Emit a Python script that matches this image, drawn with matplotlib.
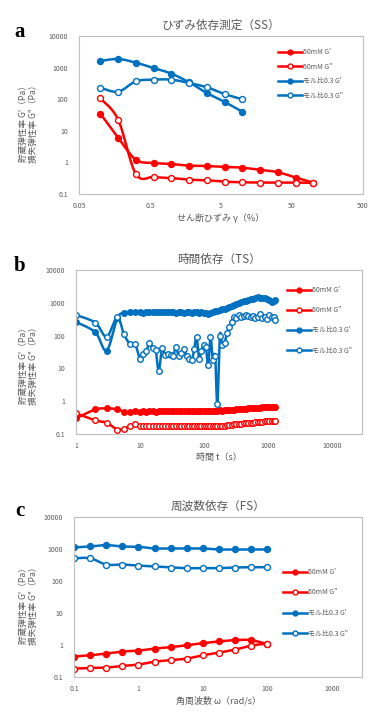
import numpy as np
import matplotlib
matplotlib.use('Agg')
import matplotlib.pyplot as plt
from matplotlib.lines import Line2D

plt.rcParams['font.family'] = ['Noto Sans CJK JP', 'DejaVu Sans']

#
# data
#
# (a) strain sweep
ss_strain = [0.1, 0.178, 0.316, 0.562, 1.0, 1.78, 3.16, 5.62, 10.0, 17.8, 31.6, 56.2, 100.0]
ss_50_gp = [34.8, 6.1, 1.22, 0.96, 0.89, 0.79, 0.77, 0.72, 0.68, 0.58, 0.49, 0.33, 0.23]
ss_50_gpp = [106, 22.5, 0.43, 0.345, 0.32, 0.285, 0.27, 0.245, 0.235, 0.23, 0.23, 0.23, 0.225]
ss_mr_strain = [0.1, 0.178, 0.316, 0.562, 1.0, 1.78, 3.16, 5.62, 10.0]
ss_mr_gp = [1618, 1870, 1430, 970, 643, 342, 157, 82, 40]
ss_mr_gpp = [232, 173, 367, 415, 415, 326, 238, 146, 99]

# (b) time sweep
ts_time = [1, 2, 3, 4.4, 5.6, 6.9, 8.4, 10, 11.2, 12.5, 14, 15.8, 17.5, 19.5, 22, 24.5,
           27, 30, 33, 36, 40, 44, 48, 53, 58, 64, 70, 76, 83, 90, 98, 106, 115, 125,
           136, 148, 160, 175, 190, 207, 225, 245, 267, 290, 316, 345, 375, 410, 445,
           485, 530, 575, 625, 680, 740, 805, 875, 950, 1035, 1125, 1220, 1290]
ts_50_gp = [0.30, 0.56, 0.60, 0.57, 0.47, 0.47, 0.50, 0.48, 0.49, 0.48, 0.50, 0.49, 0.48,
            0.50, 0.49, 0.50, 0.49, 0.50, 0.50, 0.49, 0.50, 0.51, 0.50, 0.50, 0.51, 0.50,
            0.51, 0.51, 0.50, 0.51, 0.51, 0.51, 0.52, 0.51, 0.52, 0.52, 0.52, 0.53, 0.52,
            0.53, 0.54, 0.54, 0.55, 0.55, 0.56, 0.57, 0.57, 0.58, 0.59, 0.60, 0.60, 0.61,
            0.62, 0.63, 0.64, 0.65, 0.66, 0.66, 0.67, 0.68, 0.68, 0.68]
ts_50_gpp = [0.43, 0.26, 0.22, 0.137, 0.146, 0.17, 0.20, 0.17, 0.18, 0.18, 0.18, 0.18,
             0.18, 0.18, 0.18, 0.18, 0.18, 0.18, 0.18, 0.18, 0.18, 0.18, 0.18, 0.18,
             0.18, 0.18, 0.18, 0.18, 0.18, 0.18, 0.18, 0.18, 0.18, 0.18, 0.18, 0.18,
             0.18, 0.18, 0.18, 0.18, 0.185, 0.19, 0.19, 0.195, 0.20, 0.20, 0.205, 0.21,
             0.21, 0.215, 0.22, 0.22, 0.225, 0.23, 0.235, 0.24, 0.245, 0.25, 0.25,
             0.255, 0.255, 0.25]
ts_mr_gp = [260, 126, 35, 336, 500, 520, 540, 530, 500, 520, 510, 530, 520, 510, 530, 520,
            540, 510, 520, 500, 510, 520, 500, 530, 510, 500, 510, 520, 500, 510, 490, 480,
            470, 500, 540, 560, 580, 600, 630, 660, 700, 730, 780, 840, 900, 960, 1040,
            1100, 1150, 1220, 1290, 1350, 1420, 1470, 1430, 1380, 1400, 1320, 1200, 1050,
            1150, 1200]
ts_mr_gpp = [425, 248, 93, 361, 109, 57, 54, 19, 28, 35, 58, 41, 36, 8.5, 41, 25, 28, 25,
             24, 44, 24, 30, 39, 24, 20, 18, 40, 92, 20, 35, 50, 45, 12.5, 89, 18, 24, 0.8,
             100, 52, 60, 117, 187, 265, 377, 350, 420, 380, 400, 430, 390, 360, 410, 350,
             380, 460, 350, 360, 330, 420, 370, 360, 290]

# (c) frequency sweep
fs_freq = [0.1, 0.178, 0.316, 0.562, 1.0, 1.78, 3.16, 5.62, 10.0, 17.8, 31.6, 56.2, 100.0]
fs_50_gp = [0.435, 0.478, 0.54, 0.624, 0.67, 0.775, 0.853, 0.986, 1.14, 1.29, 1.42, 1.42, 1.06]
fs_50_gpp = [0.183, 0.192, 0.197, 0.221, 0.244, 0.303, 0.334, 0.376, 0.478, 0.58, 0.72, 0.96, 1.11]
fs_mr_gp = [1117, 1200, 1322, 1200, 1172, 1040, 1040, 1040, 1040, 967, 967, 967, 967]
fs_mr_gpp = [505, 516, 327, 327, 304, 284, 264, 252, 252, 252, 264, 270, 270]

labels = ["50mM G'", '50mM G"', "モル比0.3 G'", 'モル比0.3 G"']
RED = '#FF0000'
BLUE = '#0070C0'
GRAY = '#595959'
y_ticks = [0.1, 1, 10, 100, 1000, 10000]


def smooth(x, y, n=12):
    # Catmull-Rom curve through the points in log-log space (like Excel smoothing)
    lx = np.log10(np.asarray(x, float))
    ly = np.log10(np.asarray(y, float))
    px = np.concatenate([[lx[0]], lx, [lx[-1]]])
    py = np.concatenate([[ly[0]], ly, [ly[-1]]])
    t = np.linspace(0, 1, n)[:, None]
    xs, ys = [], []
    for i in range(1, len(px) - 2):
        p0 = np.array([px[i - 1], py[i - 1]])
        p1 = np.array([px[i], py[i]])
        p2 = np.array([px[i + 1], py[i + 1]])
        p3 = np.array([px[i + 2], py[i + 2]])
        c1 = p1 + (p2 - p0) / 6
        c2 = p2 - (p3 - p1) / 6
        b = ((1 - t) ** 3) * p1 + 3 * ((1 - t) ** 2) * t * c1 + 3 * (1 - t) * t ** 2 * c2 + t ** 3 * p2
        xs.append(b[:, 0])
        ys.append(b[:, 1])
    return 10 ** np.concatenate(xs), 10 ** np.concatenate(ys)


def series(ax, x, y, color, filled, ms=4.3):
    sx, sy = smooth(x, y)
    ax.plot(sx, sy, color=color, lw=1.8, solid_capstyle='round')
    ax.plot(x, y, ls='none', marker='o', ms=ms, mec=color, mew=1.0,
            mfc=color if filled else 'white')


def setup(ax, xlim, xticks, xticklabels, title, xlabel, ylab_y, leg_xy, leg_space):
    ax.set_xscale('log')
    ax.set_yscale('log')
    ax.set_xlim(*xlim)
    ax.set_ylim(0.1, 10000)
    ax.set_xticks(xticks)
    ax.set_xticklabels(xticklabels)
    ax.set_yticks(y_ticks)
    ax.set_yticklabels(['0.1', '1', '10', '100', '1000', '10000'])
    ax.minorticks_off()
    ax.tick_params(length=0, labelsize=5, labelcolor=GRAY)
    ax.tick_params(axis='y', pad=8)
    ax.tick_params(axis='x', pad=6)
    for s in ax.spines.values():
        s.set_color('#BFBFBF')
        s.set_linewidth(0.8)
    ax.set_title(title, fontsize=8.4, color=GRAY, pad=5)
    ax.set_xlabel(xlabel, fontsize=6.5, color=GRAY, labelpad=2)
    fig.text(28 / 380, 1 - ylab_y / 715, "貯蔵弾性率 G'（Pa）\n損失弾性率 G\"（Pa）",
             rotation=90, ha='center', va='center', fontsize=6.2, color=GRAY,
             linespacing=1.15, multialignment='center')
    handles = [
        Line2D([], [], color=RED, lw=1.8, marker='o', ms=3.5, mfc=RED, mec=RED),
        Line2D([], [], color=RED, lw=1.8, marker='o', ms=3.5, mfc='white', mec=RED),
        Line2D([], [], color=BLUE, lw=1.8, marker='o', ms=3.5, mfc=BLUE, mec=BLUE),
        Line2D([], [], color=BLUE, lw=1.8, marker='o', ms=3.5, mfc='white', mec=BLUE),
    ]
    ax.legend(handles, labels, loc='upper left',
              bbox_to_anchor=(leg_xy[0] / 380, 1 - leg_xy[1] / 715),
              bbox_transform=fig.transFigure, frameon=False, fontsize=5,
              labelcolor=GRAY, handlelength=3.4, handletextpad=0.2,
              labelspacing=leg_space, borderpad=0, borderaxespad=0, numpoints=1)


fig = plt.figure(figsize=(3.8, 7.15), dpi=100)

# (a)
ax1 = fig.add_axes([79 / 380, 1 - 194 / 715, 284 / 380, 158 / 715])
series(ax1, ss_strain, ss_50_gp, RED, True)
series(ax1, ss_strain, ss_50_gpp, RED, False)
series(ax1, ss_mr_strain, ss_mr_gp, BLUE, True)
series(ax1, ss_mr_strain, ss_mr_gpp, BLUE, False)
setup(ax1, (0.05, 500), [0.05, 0.5, 5, 50, 500], ['0.05', '0.5', '5', '50', '500'],
      'ひずみ依存測定（SS）', 'せん断ひずみ γ（%）', 122, (278, 48), 0.95)

# (b)
ax2 = fig.add_axes([76 / 380, 1 - 434 / 715, 286 / 380, 164 / 715])
series(ax2, ts_time, ts_50_gp, RED, True, ms=4)
series(ax2, ts_time, ts_50_gpp, RED, False, ms=4)
series(ax2, ts_time, ts_mr_gp, BLUE, True, ms=4)
series(ax2, ts_time, ts_mr_gpp, BLUE, False, ms=4)
setup(ax2, (1, 10 ** 4.46), [1, 10, 100, 1000, 10000], ['1', '10', '100', '1000', '10000'],
      '時間依存（TS）', '時間 t（s）', 364, (287, 286), 1.75)

# (c)
ax3 = fig.add_axes([74 / 380, 1 - 677 / 715, 288 / 380, 160 / 715])
series(ax3, fs_freq, fs_50_gp, RED, True)
series(ax3, fs_freq, fs_50_gpp, RED, False)
series(ax3, fs_freq, fs_mr_gp, BLUE, True)
series(ax3, fs_freq, fs_mr_gpp, BLUE, False)
setup(ax3, (0.1, 10 ** 3.47), [0.1, 1, 10, 100, 1000], ['0.1', '1', '10', '100', '1000'],
      '周波数依存（FS）', '角周波数 ω（rad/s）', 604, (283, 568), 1.8)

# panel letters
for lab, yy in [('a', 37), ('b', 271), ('c', 516)]:
    fig.text(20 / 380, 1 - yy / 715, lab, fontsize=15, fontweight='bold',
             family='Liberation Serif', ha='center', va='baseline', color='black')

fig.savefig('out.png', dpi=100)
